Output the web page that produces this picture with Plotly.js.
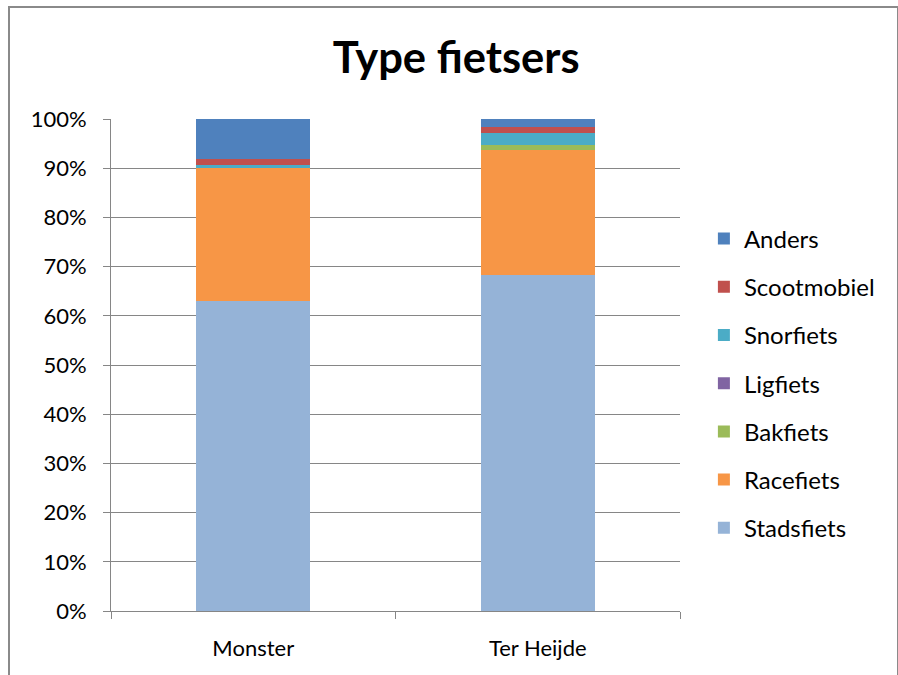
<!DOCTYPE html>
<html>
<head>
<meta charset="utf-8">
<script src="https://cdn.plot.ly/plotly-3.0.1.min.js"></script>
<style>
html,body{margin:0;padding:0;background:#fff;}
#wrap{position:relative;width:898px;height:675px;overflow:hidden;}
#chart{position:absolute;left:0;top:0;width:898px;height:675px;}
#frame{position:absolute;left:8px;top:6px;width:887px;height:700px;border:2px solid #8a8a8a;pointer-events:none;}
</style>
</head>
<body>
<div id="wrap"><div id="chart"></div><div id="frame"></div></div>
<script>
const categories = ["Monster", "Ter Heijde"];
const seriesNames = ["Stadsfiets", "Racefiets", "Bakfiets", "Ligfiets", "Snorfiets", "Scootmobiel", "Anders"];
const stadsfiets  = [63.0, 68.3];
const racefiets   = [27.1, 25.5];
const bakfiets    = [0.0, 0.9];
const ligfiets    = [0.0, 0.0];
const snorfiets   = [0.5, 2.4];
const scootmobiel = [1.2, 1.2];
const anders      = [8.2, 1.7];
const yTickVals = [0, 10, 20, 30, 40, 50, 60, 70, 80, 90, 100];
const yTickText = ["0%", "10%", "20%", "30%", "40%", "50%", "60%", "70%", "80%", "90%", "100%"];

const colors = ["#95B3D7", "#F79646", "#9BBB59", "#8064A2", "#4BACC6", "#C0504D", "#4F81BD"];
const values = [stadsfiets, racefiets, bakfiets, ligfiets, snorfiets, scootmobiel, anders];

const traces = seriesNames.map((name, i) => ({
  type: "bar",
  name: name,
  x: categories,
  y: values[i],
  legendgroup: name,
  legendrank: 1000 - i * 10,
  marker: {color: colors[i], line: {width: 0}},
  hoverinfo: "name+y"
}));

const font = "Lato, 'Open Sans', sans-serif";
const layout = {
  width: 898, height: 675,
  margin: {l: 111, r: 218, t: 119, b: 64},
  paper_bgcolor: "rgba(0,0,0,0)",
  plot_bgcolor: "#fff",
  barmode: "stack",
  bargap: 0.6,
  font: {family: font, color: "#000", size: 22},
  title: {
    text: "<b>Type fietsers</b>",
    font: {family: font, size: 43.5, color: "#000"},
    x: 0.508, xanchor: "center",
    y: 0.915, yanchor: "middle"
  },
  xaxis: {
    type: "category",
    showline: true, linecolor: "#868686", linewidth: 1,
    ticks: "outside", tickson: "boundaries", ticklen: 7, tickcolor: "#868686",
    showgrid: false,
    tickfont: {family: font, size: 22, color: "#000"},
    ticklabelstandoff: 18
  },
  yaxis: {
    range: [0, 100],
    tickvals: yTickVals, ticktext: yTickText,
    showline: true, linecolor: "#868686", linewidth: 1,
    ticks: "outside", ticklen: 7, tickcolor: "#868686",
    showgrid: true, gridcolor: "#868686", gridwidth: 1,
    zeroline: false,
    tickfont: {family: font, size: 22, color: "#000"},
    ticklabelstandoff: 12
  },
  legend: {
    x: 1.042, xanchor: "left",
    y: 0.4624, yanchor: "middle",
    traceorder: "grouped",
    tracegroupgap: 14,
    font: {family: font, size: 24, color: "#000"},
    bgcolor: "rgba(0,0,0,0)"
  },
  showlegend: true
};

Plotly.newPlot("chart", traces, layout, {displayModeBar: false, staticPlot: true});
</script>
</body>
</html>
